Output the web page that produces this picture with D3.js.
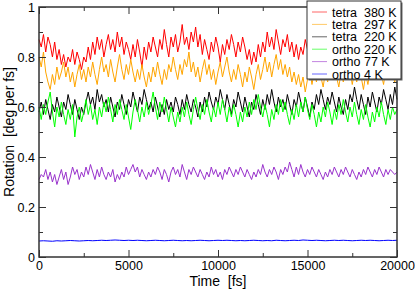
<!DOCTYPE html>
<html>
<head>
<meta charset="utf-8">
<script src="https://cdn.jsdelivr.net/npm/d3@7"></script>
<style>
  body { margin: 0; background: #fff; }
  svg { display: block; font-family: "Liberation Sans", Arial, sans-serif; }
</style>
</head>
<body>
<svg id="chart" width="415" height="289"></svg>
<script>
// time axis: 0..20000 fs
const step = 125;
const tetra380 = [
  0.87,0.84,0.89,0.82,0.88,0.85,0.80,0.86,0.79,0.83,
  0.77,0.81,0.76,0.80,0.78,0.83,0.77,0.82,0.79,0.75,
  0.80,0.78,0.84,0.79,0.86,0.81,0.88,0.83,0.87,0.80,
  0.85,0.89,0.83,0.87,0.82,0.90,0.84,0.88,0.81,0.86,
  0.83,0.79,0.85,0.80,0.87,0.82,0.76,0.84,0.79,0.86,
  0.82,0.88,0.84,0.80,0.87,0.83,0.91,0.85,0.80,0.88,
  0.84,0.89,0.82,0.86,0.93,0.85,0.88,0.83,0.90,0.86,
  0.92,0.84,0.89,0.81,0.87,0.83,0.79,0.86,0.82,0.88,
  0.84,0.78,0.85,0.81,0.87,0.83,0.89,0.85,0.80,0.86,
  0.82,0.88,0.84,0.79,0.83,0.77,0.82,0.78,0.85,0.80,
  0.86,0.82,0.90,0.84,0.88,0.83,0.91,0.86,0.81,0.87,
  0.84,0.89,0.82,0.86,0.80,0.85,0.79,0.84,0.81,0.87,
  0.83,0.88,0.82,0.86,0.80,0.85,0.89,0.83,0.87,0.81,
  0.86,0.82,0.88,0.84,0.80,0.85,0.90,0.83,0.87,0.82,
  0.85,0.81,0.87,0.83,0.89,0.84,0.80,0.86,0.82,0.88,
  0.84,0.87,0.81,0.86,0.83,0.89,0.84,0.80,0.86,0.82,
  0.85
];
const tetra297 = [
  0.80,0.76,0.82,0.74,0.70,0.67,0.73,0.69,0.76,0.71,
  0.74,0.78,0.72,0.76,0.70,0.74,0.68,0.73,0.77,0.71,
  0.75,0.70,0.76,0.72,0.78,0.73,0.69,0.75,0.80,0.74,
  0.77,0.72,0.79,0.74,0.70,0.76,0.81,0.75,0.71,0.77,
  0.73,0.79,0.74,0.70,0.75,0.71,0.77,0.72,0.68,0.74,
  0.70,0.76,0.72,0.78,0.73,0.69,0.75,0.71,0.77,0.74,
  0.80,0.75,0.71,0.77,0.73,0.79,0.76,0.82,0.74,0.78,
  0.72,0.76,0.70,0.75,0.79,0.73,0.77,0.71,0.75,0.69,
  0.74,0.78,0.72,0.76,0.80,0.74,0.70,0.75,0.71,0.77,
  0.73,0.68,0.74,0.70,0.76,0.72,0.67,0.73,0.77,0.71,
  0.75,0.80,0.74,0.78,0.72,0.77,0.81,0.75,0.79,0.73,
  0.77,0.72,0.76,0.70,0.74,0.69,0.73,0.68,0.72,0.66,
  0.71,0.75,0.69,0.74,0.70,0.76,0.72,0.68,0.74,0.70,
  0.75,0.71,0.77,0.72,0.68,0.74,0.70,0.76,0.71,0.75,
  0.69,0.74,0.70,0.76,0.72,0.67,0.73,0.69,0.75,0.71,
  0.76,0.72,0.78,0.73,0.69,0.75,0.71,0.77,0.73,0.70,
  0.74
];
const tetra220 = [
  0.58,0.62,0.57,0.63,0.59,0.55,0.61,0.58,0.64,0.60,
  0.56,0.62,0.59,0.65,0.61,0.57,0.63,0.59,0.55,0.60,
  0.57,0.62,0.66,0.61,0.64,0.59,0.67,0.62,0.65,0.60,
  0.63,0.58,0.64,0.60,0.56,0.62,0.59,0.65,0.61,0.57,
  0.63,0.60,0.66,0.62,0.58,0.64,0.61,0.67,0.63,0.59,
  0.62,0.58,0.64,0.60,0.56,0.61,0.57,0.63,0.59,0.62,
  0.58,0.64,0.61,0.57,0.63,0.59,0.65,0.61,0.58,0.63,
  0.60,0.56,0.62,0.58,0.64,0.60,0.66,0.62,0.59,0.64,
  0.61,0.67,0.63,0.59,0.65,0.61,0.57,0.63,0.60,0.66,
  0.62,0.58,0.64,0.60,0.56,0.62,0.59,0.65,0.61,0.57,
  0.63,0.59,0.65,0.61,0.67,0.62,0.58,0.64,0.60,0.63,
  0.59,0.65,0.61,0.57,0.63,0.60,0.66,0.62,0.58,0.64,
  0.60,0.56,0.62,0.59,0.65,0.61,0.67,0.63,0.59,0.64,
  0.61,0.66,0.62,0.58,0.64,0.60,0.57,0.63,0.59,0.65,
  0.62,0.68,0.63,0.59,0.65,0.61,0.57,0.64,0.60,0.66,
  0.62,0.58,0.64,0.61,0.67,0.63,0.59,0.65,0.61,0.68,
  0.63
];
const ortho220 = [
  0.60,0.55,0.61,0.57,0.62,0.66,0.58,0.52,0.60,0.56,
  0.62,0.57,0.53,0.59,0.55,0.61,0.48,0.56,0.60,0.54,
  0.58,0.63,0.57,0.61,0.55,0.59,0.53,0.60,0.56,0.62,
  0.58,0.64,0.59,0.54,0.61,0.57,0.63,0.59,0.55,0.61,
  0.56,0.51,0.58,0.63,0.59,0.54,0.60,0.56,0.62,0.57,
  0.61,0.66,0.60,0.55,0.62,0.58,0.64,0.59,0.54,0.60,
  0.56,0.52,0.58,0.54,0.60,0.56,0.62,0.57,0.53,0.59,
  0.64,0.59,0.55,0.61,0.57,0.63,0.58,0.54,0.60,0.56,
  0.62,0.57,0.63,0.59,0.54,0.60,0.56,0.61,0.57,0.52,
  0.58,0.54,0.60,0.56,0.62,0.57,0.63,0.59,0.65,0.60,
  0.56,0.61,0.57,0.52,0.59,0.55,0.61,0.57,0.63,0.58,
  0.62,0.57,0.53,0.59,0.55,0.61,0.56,0.62,0.58,0.64,
  0.59,0.55,0.61,0.57,0.52,0.58,0.54,0.60,0.56,0.62,
  0.58,0.53,0.59,0.55,0.61,0.57,0.63,0.58,0.54,0.60,
  0.56,0.62,0.57,0.53,0.59,0.55,0.61,0.56,0.52,0.58,
  0.54,0.60,0.56,0.62,0.57,0.53,0.59,0.55,0.60,0.57,
  0.59
];
const ortho77 = [
  0.31,0.33,0.32,0.35,0.31,0.34,0.30,0.33,0.29,0.32,
  0.35,0.31,0.34,0.29,0.32,0.36,0.33,0.35,0.31,0.34,
  0.32,0.36,0.33,0.37,0.34,0.31,0.35,0.32,0.36,0.33,
  0.31,0.34,0.32,0.35,0.30,0.33,0.31,0.34,0.32,0.36,
  0.33,0.35,0.37,0.34,0.36,0.32,0.35,0.33,0.31,0.34,
  0.32,0.35,0.33,0.36,0.34,0.31,0.35,0.33,0.30,0.34,
  0.36,0.33,0.35,0.32,0.37,0.34,0.31,0.35,0.33,0.36,
  0.34,0.32,0.35,0.33,0.31,0.34,0.32,0.36,0.33,0.35,
  0.32,0.34,0.31,0.35,0.33,0.36,0.34,0.32,0.35,0.33,
  0.36,0.34,0.32,0.35,0.33,0.31,0.34,0.32,0.35,0.33,
  0.37,0.34,0.32,0.35,0.33,0.36,0.34,0.31,0.35,0.33,
  0.36,0.34,0.38,0.35,0.32,0.36,0.33,0.37,0.34,0.32,
  0.35,0.33,0.36,0.34,0.32,0.35,0.33,0.31,0.34,0.32,
  0.35,0.33,0.36,0.34,0.32,0.35,0.33,0.36,0.34,0.32,
  0.35,0.33,0.31,0.34,0.32,0.35,0.33,0.36,0.34,0.32,
  0.35,0.33,0.36,0.34,0.32,0.35,0.33,0.35,0.34,0.33,
  0.34
];
// 4 K run is sampled every 250 fs
const step4K = 250;
const ortho4 = [
  0.064,0.065,0.064,0.063,0.065,0.064,0.065,0.066,0.065,0.064,
  0.065,0.066,0.065,0.066,0.067,0.066,0.067,0.068,0.067,0.066,
  0.067,0.066,0.067,0.066,0.065,0.066,0.067,0.066,0.065,0.066,
  0.067,0.066,0.065,0.066,0.065,0.066,0.067,0.066,0.065,0.066,
  0.067,0.066,0.067,0.066,0.065,0.066,0.065,0.066,0.067,0.066,
  0.065,0.066,0.065,0.067,0.066,0.065,0.066,0.067,0.066,0.068,
  0.067,0.066,0.067,0.066,0.065,0.066,0.067,0.066,0.067,0.066,
  0.065,0.066,0.067,0.066,0.067,0.066,0.065,0.066,0.067,0.066,
  0.067
];

const seriesNames  = ["tetra  380 K", "tetra  297 K", "tetra  220 K", "ortho 220 K", "ortho 77 K", "ortho 4 K"];
const seriesColors = ["#ff0000", "#ffa500", "#000000", "#00ff00", "#9932cc", "#0000ff"];
const seriesData   = [tetra380, tetra297, tetra220, ortho220, ortho77, ortho4];
const seriesSteps  = [step, step, step, step, step, step4K];

const xMajor = [0, 5000, 10000, 15000, 20000];
const xMinor = [2500, 7500, 12500, 17500];
const yMajor = [0, 0.2, 0.4, 0.6, 0.8, 1];
const yMinor = [0.1, 0.3, 0.5, 0.7, 0.9];

// Layout ----------------------------------------
const margin = { top: 7, right: 18, bottom: 32, left: 39 };
const W = 415, H = 289;
const width = W - margin.left - margin.right;
const height = H - margin.top - margin.bottom;

const svg = d3.select("#chart");
const g = svg.append("g").attr("transform", `translate(${margin.left},${margin.top})`);

const x = d3.scaleLinear().domain([0, 20000]).range([0, width]);
const y = d3.scaleLinear().domain([0, 1]).range([height, 0]);

// data lines
const line = d3.line()
  .x(d => x(d.t))
  .y(d => y(d.v));

seriesData.forEach((arr, i) => {
  const pts = arr.map((v, k) => ({ t: k * seriesSteps[i], v: v }));
  g.append("path")
    .datum(pts)
    .attr("fill", "none")
    .attr("stroke", seriesColors[i])
    .attr("stroke-width", 1)
    .attr("d", line);
});

// axes (ticks pointing inward like xmgrace)
const axisColor = "#333";
function styleAxis(sel, noLabels) {
  sel.select(".domain").remove();
  sel.selectAll("line").attr("stroke", axisColor).attr("stroke-width", 1);
  sel.selectAll("text")
    .attr("fill", "#000")
    .attr("font-size", "12.5px");
  if (noLabels) sel.selectAll("text").remove();
}

g.append("g").attr("transform", `translate(0,${height})`)
  .call(d3.axisBottom(x).tickValues(xMajor).tickSize(-7).tickPadding(4).tickFormat(d3.format("d")))
  .call(s => styleAxis(s, false));
g.append("g").attr("transform", `translate(0,${height})`)
  .call(d3.axisBottom(x).tickValues(xMinor).tickSize(-4))
  .call(s => styleAxis(s, true));
g.append("g")
  .call(d3.axisTop(x).tickValues(xMajor).tickSize(-7))
  .call(s => styleAxis(s, true));
g.append("g")
  .call(d3.axisTop(x).tickValues(xMinor).tickSize(-4))
  .call(s => styleAxis(s, true));

g.append("g")
  .call(d3.axisLeft(y).tickValues(yMajor).tickSize(-7).tickPadding(4).tickFormat(d => d === 0 || d === 1 ? d3.format("d")(d) : d3.format(".1f")(d)))
  .call(s => styleAxis(s, false));
g.append("g")
  .call(d3.axisLeft(y).tickValues(yMinor).tickSize(-4))
  .call(s => styleAxis(s, true));
g.append("g").attr("transform", `translate(${width},0)`)
  .call(d3.axisRight(y).tickValues(yMajor).tickSize(-7))
  .call(s => styleAxis(s, true));
g.append("g").attr("transform", `translate(${width},0)`)
  .call(d3.axisRight(y).tickValues(yMinor).tickSize(-4))
  .call(s => styleAxis(s, true));

// frame
g.append("rect")
  .attr("width", width).attr("height", height)
  .attr("fill", "none")
  .attr("stroke", axisColor)
  .attr("stroke-width", 1.5);

// axis titles
svg.append("text")
  .attr("x", margin.left + width / 2)
  .attr("y", 286)
  .attr("text-anchor", "middle")
  .attr("font-size", "14px")
  .style("white-space", "pre")
  .text("Time  [fs]");

svg.append("text")
  .attr("transform", `translate(14,${margin.top + height / 2}) rotate(-90)`)
  .attr("text-anchor", "middle")
  .attr("font-size", "14px")
  .style("white-space", "pre")
  .text("Rotation  [deg per fs]");

// legend ----------------------------------------
const lg = svg.append("g").attr("transform", "translate(307,1)");
lg.append("rect")
  .attr("x", 1.5).attr("y", 1.5)
  .attr("width", 94).attr("height", 78)
  .attr("fill", "#666");
lg.append("rect")
  .attr("width", 94).attr("height", 78)
  .attr("fill", "#fff")
  .attr("stroke", "#333")
  .attr("stroke-width", 1);

seriesNames.forEach((name, i) => {
  const yy = 11 + i * 12.4;
  lg.append("line")
    .attr("x1", 5).attr("x2", 20)
    .attr("y1", yy).attr("y2", yy)
    .attr("stroke", seriesColors[i])
    .attr("stroke-opacity", 0.6)
    .attr("stroke-width", 1);
  lg.append("text")
    .attr("x", 25).attr("y", yy)
    .attr("dy", "0.36em")
    .attr("font-size", "12.5px")
    .style("white-space", "pre")
    .text(name);
});
</script>
</body>
</html>
